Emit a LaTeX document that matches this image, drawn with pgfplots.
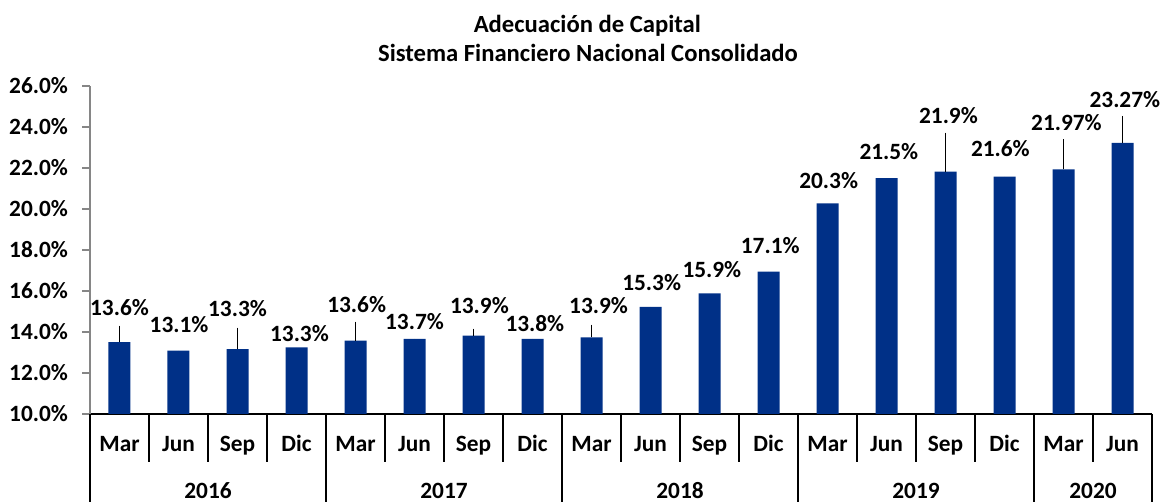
\documentclass[border=0pt]{standalone}
\usepackage{fontspec}
\setmainfont{Carlito}
\usepackage{pgfplots}
\usepackage{pgfplotstable}
\pgfplotsset{compat=1.18}
\definecolor{barblue}{RGB}{0,48,135}
\definecolor{axgray}{RGB}{134,134,134}
\newcommand{\labfont}{\fontsize{17.5}{21}\selectfont\bfseries}
\newcommand{\titfont}{\fontsize{18.5}{22}\selectfont\bfseries}

\pgfplotstableread{
x bar err lx ly lab
0 13.51 0.80 0.00 15.17 13.6
1 13.09 0.00 1.01 14.34 13.1
2 13.17 1.04 2.00 15.12 13.3
3 13.25 0.00 3.05 13.90 13.3
4 13.58 0.92 4.02 15.32 13.6
5 13.66 0.00 5.00 14.49 13.7
6 13.82 0.35 6.10 15.27 13.9
7 13.66 0.00 7.04 14.39 13.8
8 13.74 0.62 8.12 15.27 13.9
9 15.23 0.00 9.02 16.39 15.3
10 15.89 0.00 10.04 17.07 15.9
11 16.94 0.00 11.03 18.20 17.1
12 20.28 0.00 12.02 21.41 20.3
13 21.50 0.00 13.04 22.78 21.5
14 21.82 1.90 14.05 24.54 21.9
15 21.58 0.00 14.93 22.93 21.6
16 21.93 1.47 16.05 24.24 21.97
17 23.23 1.31 17.04 25.32 23.27
}\datatable

\begin{document}
\begin{tikzpicture}
\path[use as bounding box] (-67.5pt,-66pt) rectangle (802.5pt,310.5pt);
\begin{axis}[
  at={(0,0)}, anchor=south west,
  scale only axis, width=796.5pt, height=246pt,
  xmin=-0.5, xmax=17.5, ymin=10, ymax=26,
  clip mode=individual,
  axis x line*=bottom, axis y line*=left,
  x axis line style={black, line width=0.8pt, -},
  y axis line style={axgray, line width=0.8pt, -},
  ytick={10,12,14,16,18,20,22,24,26},
  yticklabel={\pgfmathprintnumber[fixed,fixed zerofill,precision=1]{\tick}\%},
  /pgf/number format/assume math mode=true,
  ytick style={axgray, line width=0.8pt},
  tick align=outside, major tick length=6pt,
  yticklabel style={xshift=-7pt},
  xtick={0,...,17},
  xticklabels={Mar,Jun,Sep,Dic,Mar,Jun,Sep,Dic,Mar,Jun,Sep,Dic,Mar,Jun,Sep,Dic,Mar,Jun},
  xtick style={draw=none},
  tick label style={font=\labfont, text=black},
  xticklabel style={anchor=base, yshift=-22.5pt},
  extra x ticks={1.5,5.5,9.5,13.5,16.5},
  extra x tick labels={2016,2017,2018,2019,2020},
  extra x tick style={xtick style={draw=none}, xticklabel style={yshift=-34.5pt}},
]
\addplot[ybar, bar width=16.5pt, fill=barblue, draw=none,
  error bars/.cd, y dir=plus, y explicit, error mark=none,
  error bar style={black, line width=0.9pt}]
  table[x=x, y=bar, y error=err]{\datatable};
\addplot[draw=none, mark=none, nodes near coords={\pgfplotspointmeta\%},
  point meta=explicit symbolic,
  every node near coord/.append style={anchor=center, inner sep=0pt, font=\labfont, text=black}]
  table[x=lx, y=ly, meta=lab]{\datatable};
\pgfplotsinvokeforeach{0.5,1.5,2.5,4.5,5.5,6.5,8.5,9.5,10.5,12.5,13.5,14.5,16.5}{
  \draw[black, line width=0.8pt] (axis cs:#1,10) -- ++(0pt,-36pt);
}
\pgfplotsinvokeforeach{-0.5,3.5,7.5,11.5,15.5,17.5}{
  \draw[black, line width=0.8pt] (axis cs:#1,10) -- ++(0pt,-70pt);
}
\end{axis}
\node[font=\titfont] at (373pt,291.5pt) {Adecuación de Capital};
\node[font=\titfont] at (373.5pt,270.5pt) {Sistema Financiero Nacional Consolidado};
\end{tikzpicture}
\end{document}
